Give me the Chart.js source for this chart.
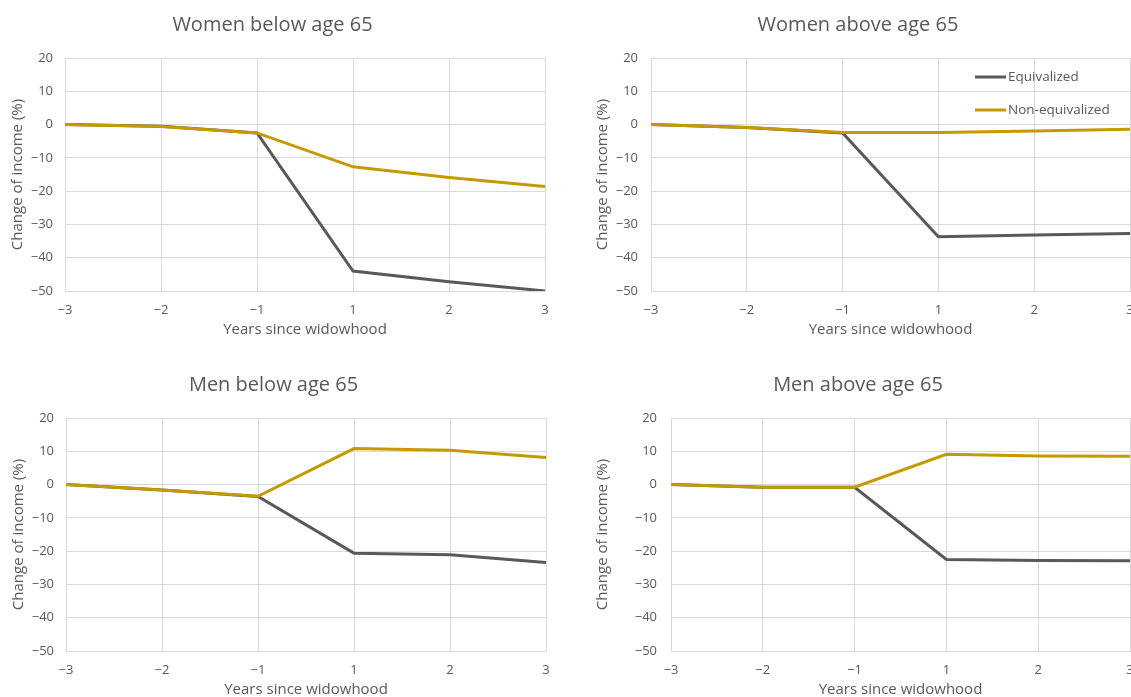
<!DOCTYPE html>
<html>
<head>
<meta charset="utf-8">
<script src="https://cdn.jsdelivr.net/npm/chart.js@4.4.1/dist/chart.umd.min.js"></script>
<style>
    html, body { margin: 0; padding: 0; background: #fff; overflow: hidden; }
    body { width: 1131px; height: 697px; position: relative; }
    .panel { position: absolute; }
</style>
</head>
<body>
<div class="panel" style="left:0px; top:0px; width:550px; height:343px;"><canvas id="womenBelow"></canvas></div>
<div class="panel" style="left:586px; top:0px; width:550px; height:343px;"><canvas id="womenAbove"></canvas></div>
<div class="panel" style="left:1px; top:360px; width:550px; height:343px;"><canvas id="menBelow"></canvas></div>
<div class="panel" style="left:586px; top:360px; width:552px; height:343px;"><canvas id="menAbove"></canvas></div>

<script>
/************************/
/*   Data (read off)    */
/************************/

var years = ["\u22123", "\u22122", "\u22121", "1", "2", "3"];
var seriesNames = ["Equivalized", "Non-equivalized"];

var womenBelowEq    = [0, -0.5, -2.5, -44.0, -47.2, -50.0];
var womenBelowNonEq = [0, -0.6, -2.5, -12.7, -15.9, -18.6];

var womenAboveEq    = [0, -0.9, -2.5, -33.7, -33.2, -32.7];
var womenAboveNonEq = [0, -0.9, -2.4, -2.4, -1.9, -1.4];

var menBelowEq    = [0, -1.6, -3.6, -20.6, -21.1, -23.4];
var menBelowNonEq = [0, -1.6, -3.5, 10.8, 10.3, 8.1];

var menAboveEq    = [0, -0.8, -0.8, -22.5, -22.8, -22.9];
var menAboveNonEq = [0, -0.8, -0.8, 9.1, 8.6, 8.5];

/************************/
/*   Styles             */
/************************/

var FONT = "'Open Sans', 'Noto Sans', sans-serif";
var TEXT = "#595959";
var GRID = "#d9d9d9";
var GREY_LINE = "#595959";
var GOLD_LINE = "#c49a00";

// small legend drawn inside the plot area (only top right panel)
var insideLegend = {
    id: "insideLegend",
    afterDraw: function(chart, args, opts) {
        if (!opts.show) return;
        var ctx = chart.ctx;
        var area = chart.chartArea;
        ctx.save();
        chart.data.datasets.forEach(function(ds, i) {
            var y = area.top + 19 + i * 33;
            var x0 = area.right - 155;
            ctx.strokeStyle = ds.borderColor;
            ctx.lineWidth = 3;
            ctx.beginPath();
            ctx.moveTo(x0, y);
            ctx.lineTo(x0 + 31, y);
            ctx.stroke();
            ctx.fillStyle = TEXT;
            ctx.font = "13.5px " + FONT;
            ctx.textBaseline = "middle";
            ctx.textAlign = "left";
            ctx.fillText(ds.label, x0 + 33, y);
        });
        ctx.restore();
    }
};

var makePanel = function(id, title, eq, nonEq, p) {
    var ctx = document.getElementById(id);
    return new Chart(ctx, {
        type: "line",
        data: {
            labels: years,
            datasets: [{
                label: seriesNames[0],
                data: eq,
                borderColor: GREY_LINE,
                borderWidth: 3,
                pointRadius: 0,
                tension: 0,
                order: 1
            }, {
                label: seriesNames[1],
                data: nonEq,
                borderColor: GOLD_LINE,
                borderWidth: 3,
                pointRadius: 0,
                tension: 0,
                order: 0
            }]
        },
        options: {
            responsive: true,
            maintainAspectRatio: false,
            animation: false,
            layout: { padding: { left: 0, right: p.right, top: 0, bottom: 0 } },
            plugins: {
                legend: { display: false },
                tooltip: { enabled: false },
                insideLegend: { show: !!p.legend },
                title: {
                    display: true,
                    text: title,
                    color: TEXT,
                    font: { family: FONT, size: 20, weight: "normal" },
                    padding: { top: 13, bottom: 21 }
                }
            },
            scales: {
                x: {
                    offset: false,
                    grid: { color: GRID, drawTicks: false },
                    border: { color: GRID },
                    ticks: {
                        color: TEXT,
                        font: { family: FONT, size: 13 },
                        padding: 11,
                        maxRotation: 0
                    },
                    title: {
                        display: true,
                        text: "Years since widowhood",
                        color: TEXT,
                        font: { family: FONT, size: 15 },
                        padding: { top: 0, bottom: 4 }
                    },
                    afterFit: function(scale) {
                        scale.height = 52;
                        // let the layout padding decide the right edge
                        scale.paddingLeft = 0;
                        scale.paddingRight = 0;
                    }
                },
                y: {
                    min: -50,
                    max: 20,
                    grid: { color: GRID, drawTicks: false },
                    border: { color: GRID },
                    ticks: {
                        stepSize: 10,
                        color: TEXT,
                        font: { family: FONT, size: 13 },
                        padding: p.tickPad,
                        callback: function(v) { return String(v).replace("-", "\u2212"); }
                    },
                    title: {
                        display: true,
                        text: "Change of income (%)",
                        color: TEXT,
                        font: { family: FONT, size: 15 },
                        padding: { top: p.titlePad, bottom: 0 }
                    },
                    afterFit: function(scale) { scale.width = p.yWidth; }
                }
            }
        },
        plugins: [insideLegend]
    });
};

makePanel("womenBelow", "Women below age 65", womenBelowEq, womenBelowNonEq,
    { yWidth: 65, tickPad: 12, titlePad: 9, right: 5 });
makePanel("womenAbove", "Women above age 65", womenAboveEq, womenAboveNonEq,
    { yWidth: 65, tickPad: 13, titlePad: 8, right: 6, legend: true });
makePanel("menBelow", "Men below age 65", menBelowEq, menBelowNonEq,
    { yWidth: 65, tickPad: 12, titlePad: 9, right: 5 });
makePanel("menAbove", "Men above age 65", menAboveEq, menAboveNonEq,
    { yWidth: 85, tickPad: 14, titlePad: 8, right: 8 });
</script>
</body>
</html>
